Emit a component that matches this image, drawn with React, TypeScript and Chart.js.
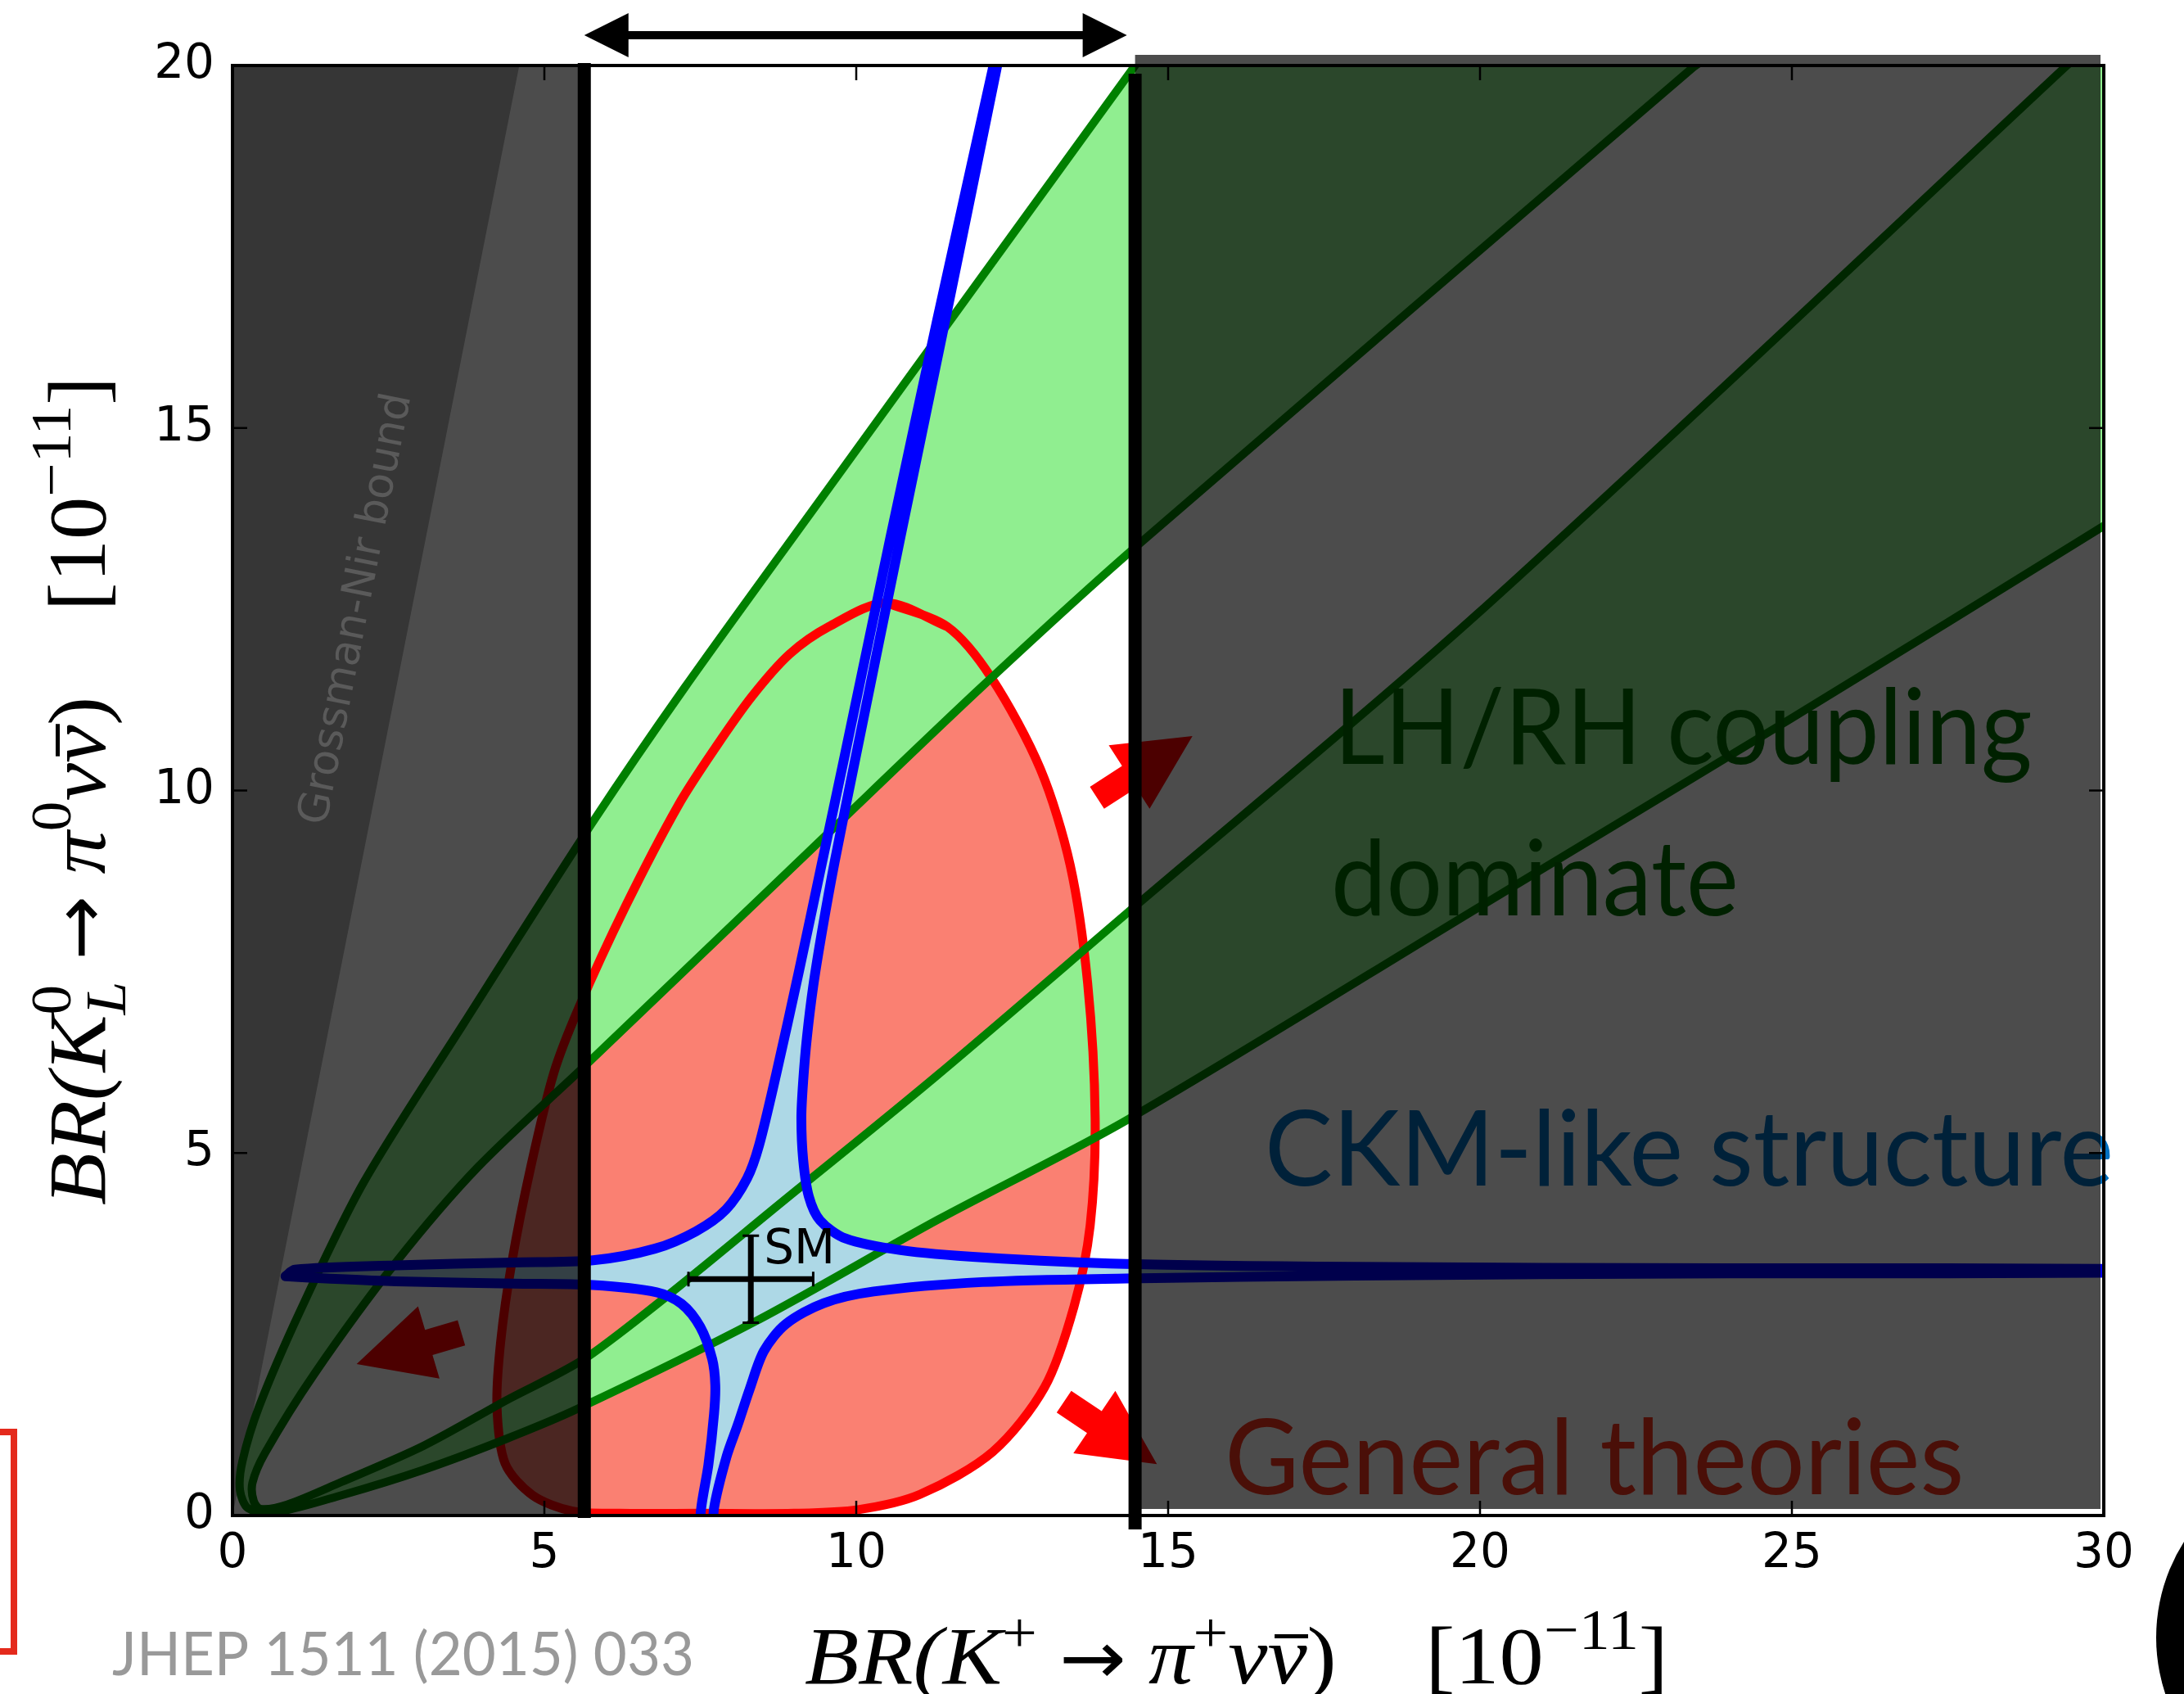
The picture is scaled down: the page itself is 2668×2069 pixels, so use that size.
import React, { useEffect, useRef } from "react";
import { Chart, registerables } from "chart.js";

Chart.register(...registerables);

// ---------- axes ----------
const X_TICKS = [0, 5, 10, 15, 20, 25, 30];
const Y_TICKS = [0, 5, 10, 15, 20];
const X_MAX = 30;
const Y_MAX = 20;

// ---------- experimental window on BR(K+) and Grossman-Nir bound ----------
const K_PLUS_LOW = 5.64;
const K_PLUS_HIGH = 14.47;
const GN_SLOPE = 4.35;

// ---------- Standard Model point ----------
const SM_POINT = [8.31, 3.26];
const SM_ERROR = [1.0, 0.6];

// ---------- LH/RH coupling branches (green) ----------
const OUTER_A = [[14.8, 20.4], [14.47, 20.0], [12.0, 17.07], [9.55, 14.16], [7.25, 11.42], [5.78, 9.57], [3.71, 6.79], [2.1, 4.59], [1.09, 2.83], [0.43, 1.51], [0.16, 0.75], [0.12, 0.35], [0.25, 0.1]];
const OUTER_D = [[0.66, 0.04], [1.75, 0.28], [3.06, 0.63], [4.37, 1.05], [5.53, 1.47], [8.39, 2.68], [11.31, 4.08], [14.33, 5.45], [20, 8.4], [25, 11.0], [30, 13.65], [31, 14.2]];
const INNER_B = [[24.0, 20.4], [23.41, 19.97], [14.4, 13.3], [12.0, 11.42], [9.56, 9.42], [5.65, 6.2], [3.94, 4.81], [2.62, 3.49], [1.31, 1.95], [0.52, 0.86], [0.32, 0.45], [0.34, 0.2]];
const INNER_C = [[0.45, 0.09], [0.875, 0.15], [1.74, 0.46], [3.06, 0.96], [4.37, 1.58], [5.78, 2.24], [9.09, 4.52], [11.31, 6.08], [14.33, 8.3], [19.95, 12.43], [29.37, 19.97], [31, 21.3]];

// ---------- general theories contour (red) ----------
const GENERAL_CONTOUR = [[10.48, 12.59], [11.46, 12.26], [12.17, 11.55], [12.95, 10.3], [13.43, 8.97], [13.71, 7.34], [13.83, 5.48], [13.75, 4.0], [13.49, 2.88], [13.02, 1.77], [12.19, 0.88], [11.02, 0.29], [10.03, 0.08], [9.0, 0.03], [7.5, 0.03], [6.2, 0.03], [5.45, 0.06], [4.81, 0.28], [4.37, 0.72], [4.24, 1.51], [4.3, 2.4], [4.48, 3.5], [4.78, 4.8], [5.15, 6.1], [5.55, 7.0], [6.3, 8.4], [7.15, 9.8], [7.75, 10.6], [8.33, 11.3], [8.93, 11.88], [9.56, 12.26], [10.48, 12.59], [11.46, 12.26]];

// ---------- CKM-like structure (blue), four branches ----------
const CKM_UL = [[0.85, 3.3], [1.0, 3.39], [2.62, 3.45], [4.5, 3.49], [5.78, 3.52], [6.77, 3.68], [7.43, 3.92], [7.91, 4.22], [8.25, 4.65], [8.44, 5.1], [8.72, 6.1], [9.08, 7.5], [9.45, 9.0], [9.82, 10.5], [10.55, 13.5], [11.3, 16.5], [12.2, 20.0], [12.35, 20.6]];
const CKM_UR = [[12.4, 20.6], [12.26, 20.0], [11.43, 16.5], [10.71, 13.5], [10.0, 10.5], [9.65, 9.0], [9.46, 8.1], [9.31, 7.3], [9.21, 6.6], [9.15, 6.0], [9.12, 5.48], [9.15, 4.9], [9.24, 4.4], [9.42, 4.07], [9.83, 3.82], [10.71, 3.66], [12.02, 3.56], [14.33, 3.47], [18, 3.43], [24, 3.41], [31, 3.4]];
const CKM_LR = [[31, 3.35], [24, 3.34], [18, 3.31], [14.33, 3.27], [12.02, 3.22], [10.28, 3.09], [9.48, 2.93], [8.87, 2.64], [8.52, 2.27], [8.29, 1.74], [8.1, 1.25], [7.92, 0.81], [7.72, 0.1], [7.68, -0.5]];
const CKM_LL = [[7.49, -0.5], [7.51, 0.07], [7.63, 0.7], [7.72, 1.4], [7.74, 1.8], [7.69, 2.16], [7.5, 2.6], [7.2, 2.92], [6.8, 3.08], [5.78, 3.18], [4.5, 3.2], [2.62, 3.23], [1.5, 3.27], [0.85, 3.3]];

// ---------- arrows [tail, tip] ----------
const ARROWS = [
  [[3.67, 2.52], [1.99, 2.09]],
  [[13.86, 9.9], [15.39, 10.75]],
  [[13.33, 1.57], [14.82, 0.71]],
];

// ---------- annotation anchors (data coords) ----------
const GN_LABEL = [2.0, 12.5];
const LABEL_LH = [17.66, 10.37];
const LABEL_DOM = [17.61, 8.28];
const LABEL_CKM = [16.55, 4.55];
const LABEL_GEN = [15.91, 0.29];

const F_SANS = '"DejaVu Sans", Verdana, sans-serif';
const F_SERIF = '"Liberation Serif", "DejaVu Serif", serif';
const F_GILL = 'Lato, "Open Sans", sans-serif';

const pts = (arr: number[][]) => arr.map(([x, y]) => ({ x, y }));

const GREEN_SHAPE = [
  ...OUTER_A, ...OUTER_D, [33, 15], [33, 23], [31, 23],
  ...INNER_C.slice().reverse(), ...INNER_B.slice().reverse(), [20, 23], [14.8, 23],
];
const BLUE_SHAPE = [...CKM_UL, ...CKM_UR, ...CKM_LR, ...CKM_LL];

type Run = { t: string; it?: boolean; k?: number; dy?: number; over?: boolean; sans?: boolean; sub?: Run };

const X_TITLE: Run[] = [
  { t: "BR(K", it: true },
  { t: "+", k: 0.7, dy: -0.38 },
  { t: " " },
  { t: "\u2192", sans: true, k: 0.9 },
  { t: " " },
  { t: "\u03C0", it: true },
  { t: "+", k: 0.7, dy: -0.38 },
  { t: "\u03BD", it: true },
  { t: "\u03BD", it: true, over: true },
  { t: ")" },
  { t: "    [10" },
  { t: "\u221211", k: 0.7, dy: -0.42 },
  { t: "]" },
];
const Y_TITLE: Run[] = [
  { t: "BR(K", it: true },
  { t: "0", k: 0.7, dy: -0.42, sub: { t: "L", it: true, k: 0.7, dy: 0.25 } },
  { t: " " },
  { t: "\u2192", sans: true, k: 0.9 },
  { t: " " },
  { t: "\u03C0", it: true },
  { t: "0", k: 0.7, dy: -0.42 },
  { t: "\u03BD", it: true },
  { t: "\u03BD", it: true, over: true },
  { t: ")" },
  { t: "    [10" },
  { t: "\u221211", k: 0.7, dy: -0.42 },
  { t: "]" },
];

function drawRuns(ctx: any, runs: Run[], S: number, x0: number, y0: number, len: number, rot: number) {
  const font = (r: Run) => `${r.it ? "italic " : ""}${(r.k ?? 1) * S}px ${r.sans ? F_SANS : F_SERIF}`;
  const width = (r: Run) => { ctx.font = font(r); return ctx.measureText(r.t).width; };
  const adv = runs.map((r) => Math.max(width(r), r.sub ? width(r.sub) : 0));
  const total = adv.reduce((a, b) => a + b, 0);
  ctx.save();
  ctx.translate(x0, y0);
  ctx.rotate(rot);
  ctx.scale(len / total, 1);
  ctx.fillStyle = "#000";
  ctx.textAlign = "left";
  ctx.textBaseline = "alphabetic";
  let cx = 0;
  runs.forEach((r, i) => {
    ctx.font = font(r);
    ctx.fillText(r.t, cx, (r.dy ?? 0) * S);
    if (r.sub) { ctx.font = font(r.sub); ctx.fillText(r.sub.t, cx, (r.sub.dy ?? 0) * S); }
    if (r.over) { const w = width(r); ctx.fillRect(cx + 0.18 * w, -0.6 * S, w * 0.85, 0.05 * S); }
    cx += adv[i];
  });
  ctx.restore();
}

function fitText(ctx: any, text: string, x: number, y: number, w: number, font: string, color: string) {
  ctx.save();
  ctx.font = font;
  const nat = ctx.measureText(text).width;
  ctx.translate(x, y);
  ctx.scale(w / nat, 1);
  ctx.fillStyle = color;
  ctx.textAlign = "left";
  ctx.textBaseline = "alphabetic";
  ctx.fillText(text, 0, 0);
  ctx.restore();
}

function fatArrow(ctx: any, x0: number, y0: number, x1: number, y1: number, sw: number, hw: number, hl: number) {
  const dx = x1 - x0, dy = y1 - y0, L = Math.hypot(dx, dy);
  const ux = dx / L, uy = dy / L, nx = -uy, ny = ux;
  const bx = x1 - ux * hl, by = y1 - uy * hl;
  ctx.beginPath();
  ctx.moveTo(x0 + nx * sw / 2, y0 + ny * sw / 2);
  ctx.lineTo(bx + nx * sw / 2, by + ny * sw / 2);
  ctx.lineTo(bx + nx * hw / 2, by + ny * hw / 2);
  ctx.lineTo(x1, y1);
  ctx.lineTo(bx - nx * hw / 2, by - ny * hw / 2);
  ctx.lineTo(bx - nx * sw / 2, by - ny * sw / 2);
  ctx.lineTo(x0 - nx * sw / 2, y0 - ny * sw / 2);
  ctx.closePath();
  ctx.fill();
}

const decorPlugin = {
  id: "decor",
  beforeDraw(chart: any) {
    const { ctx, chartArea: a } = chart;
    const X = (v: number) => chart.scales.x.getPixelForValue(v);
    const Y = (v: number) => chart.scales.y.getPixelForValue(v);
    ctx.save();
    ctx.fillStyle = "#ffffff";
    ctx.fillRect(0, 0, chart.width, chart.height);
    ctx.beginPath();
    ctx.rect(a.left, a.top, a.right - a.left, a.bottom - a.top);
    ctx.clip();
    ctx.fillStyle = "#b4b4b4";
    ctx.beginPath();
    ctx.moveTo(X(0), Y(0));
    ctx.lineTo(X(0), Y(Y_MAX));
    ctx.lineTo(X(Y_MAX / GN_SLOPE), Y(Y_MAX));
    ctx.closePath();
    ctx.fill();
    ctx.restore();
  },
  afterDraw(chart: any) {
    const { ctx, chartArea: a } = chart;
    const X = (v: number) => chart.scales.x.getPixelForValue(v);
    const Y = (v: number) => chart.scales.y.getPixelForValue(v);
    ctx.save();

    // region labels (under the tint)
    fitText(ctx, "LH/RH coupling", X(LABEL_LH[0]), Y(LABEL_LH[1]), 853, `128px ${F_GILL}`, "#007000");
    fitText(ctx, "dominate", X(LABEL_DOM[0]), Y(LABEL_DOM[1]), 498, `128px ${F_GILL}`, "#007000");
    fitText(ctx, "CKM-like structure", X(LABEL_CKM[0]), Y(LABEL_CKM[1]), 1037, `128px ${F_GILL}`, "#0070c0");
    fitText(ctx, "General theories", X(LABEL_GEN[0]), Y(LABEL_GEN[1]), 903, `128px ${F_GILL}`, "#f7321b");

    // arrows
    ctx.fillStyle = "#ff0000";
    ARROWS.forEach(([t, h]) => fatArrow(ctx, X(t[0]), Y(t[1]), X(h[0]), Y(h[1]), 32, 92, 92));

    // excluded-region tint
    ctx.fillStyle = "rgba(0,0,0,0.7)";
    ctx.fillRect(X(0), Y(Y_MAX), X(K_PLUS_LOW) - X(0), Y(0) - Y(Y_MAX));
    ctx.fillRect(X(K_PLUS_HIGH), Y(Y_MAX) - 13, X(X_MAX) - 4 - X(K_PLUS_HIGH), Y(0) - 8 - (Y(Y_MAX) - 13));

    // Grossman-Nir label
    ctx.save();
    const ang = Math.atan2(Y(GN_SLOPE) - Y(0), X(1) - X(0));
    ctx.translate(X(GN_LABEL[0]), Y(GN_LABEL[1]));
    ctx.rotate(ang);
    ctx.font = `52px ${F_SANS}`;
    ctx.fillStyle = "#5a5a5a";
    ctx.textAlign = "center";
    ctx.textBaseline = "middle";
    ctx.fillText("Grossman-Nir bound", 0, 0);
    ctx.restore();

    // frame and inward ticks
    ctx.strokeStyle = "#000";
    ctx.lineWidth = 4;
    ctx.strokeRect(a.left, a.top, a.right - a.left, a.bottom - a.top);
    ctx.lineWidth = 2.5;
    ctx.beginPath();
    X_TICKS.forEach((v) => {
      ctx.moveTo(X(v), a.bottom); ctx.lineTo(X(v), a.bottom - 18);
      ctx.moveTo(X(v), a.top); ctx.lineTo(X(v), a.top + 18);
    });
    Y_TICKS.forEach((v) => {
      ctx.moveTo(a.left, Y(v)); ctx.lineTo(a.left + 18, Y(v));
      ctx.moveTo(a.right, Y(v)); ctx.lineTo(a.right - 18, Y(v));
    });
    ctx.stroke();

    // window lines
    ctx.lineWidth = 16;
    ctx.lineCap = "butt";
    ctx.beginPath();
    ctx.moveTo(X(K_PLUS_LOW), Y(Y_MAX) - 3); ctx.lineTo(X(K_PLUS_LOW), Y(0) + 3);
    ctx.moveTo(X(K_PLUS_HIGH), Y(Y_MAX) + 10); ctx.lineTo(X(K_PLUS_HIGH), Y(0) + 17);
    ctx.stroke();

    // double arrow
    const ay = a.top - 37, xl = X(K_PLUS_LOW), xr = X(K_PLUS_HIGH) - 10;
    ctx.lineWidth = 10;
    ctx.beginPath(); ctx.moveTo(xl + 40, ay); ctx.lineTo(xr - 40, ay); ctx.stroke();
    ctx.fillStyle = "#000";
    ctx.beginPath(); ctx.moveTo(xl, ay); ctx.lineTo(xl + 54, ay - 27); ctx.lineTo(xl + 54, ay + 27); ctx.closePath(); ctx.fill();
    ctx.beginPath(); ctx.moveTo(xr, ay); ctx.lineTo(xr - 54, ay - 27); ctx.lineTo(xr - 54, ay + 27); ctx.closePath(); ctx.fill();

    // SM point with error bars
    const sx = X(SM_POINT[0]), sy = Y(SM_POINT[1]);
    const xl2 = X(SM_POINT[0] - SM_ERROR[0]), xr2 = X(SM_POINT[0] + SM_ERROR[0]);
    const yt = Y(SM_POINT[1] + SM_ERROR[1]), yb = Y(SM_POINT[1] - SM_ERROR[1]);
    ctx.lineWidth = 7;
    ctx.beginPath();
    ctx.moveTo(xl2, sy); ctx.lineTo(xr2, sy);
    ctx.moveTo(sx, yt); ctx.lineTo(sx, yb);
    ctx.stroke();
    ctx.lineWidth = 3;
    ctx.beginPath();
    ctx.moveTo(xl2, sy - 9); ctx.lineTo(xl2, sy + 9);
    ctx.moveTo(xr2, sy - 9); ctx.lineTo(xr2, sy + 9);
    ctx.moveTo(sx - 10, yt); ctx.lineTo(sx + 10, yt);
    ctx.moveTo(sx - 10, yb); ctx.lineTo(sx + 10, yb);
    ctx.stroke();
    ctx.font = `58px ${F_SANS}`;
    ctx.textAlign = "left";
    ctx.textBaseline = "alphabetic";
    ctx.fillText("SM", sx + 16, sy - 19);

    // axis titles
    drawRuns(ctx, X_TITLE, 100, 983, 2056, 1055, 0);
    drawRuns(ctx, Y_TITLE, 100, 128, 1472, 1012, -Math.PI / 2);

    // citation
    fitText(ctx, "JHEP 1511 (2015) 033", 137, 2046, 711, `74px ${F_GILL}`, "#999999");

    // slide decorations
    ctx.strokeStyle = "#e42a1c";
    ctx.lineWidth = 8;
    ctx.beginPath();
    ctx.moveTo(-5, 1749); ctx.lineTo(17, 1749); ctx.lineTo(17, 2017); ctx.lineTo(-5, 2017);
    ctx.stroke();
    ctx.fillStyle = "#000";
    ctx.beginPath(); ctx.arc(2852, 2000, 218, 0, Math.PI * 2); ctx.fill();

    ctx.restore();
  },
};

export default function App() {
  const ref = useRef<HTMLCanvasElement>(null);
  useEffect(() => {
    const canvas = ref.current!;
    const common = { pointRadius: 0, tension: 0.3, capBezierPoints: false, borderJoinStyle: "round", borderCapStyle: "round", fill: "shape" };
    const chart = new Chart(canvas, {
      type: "line",
      data: {
        datasets: [
          { ...common, label: "CKM-like structure", data: pts(BLUE_SHAPE), order: 1, borderColor: "#0000ff", borderWidth: 12, backgroundColor: "#add8e6" },
          { ...common, label: "LH/RH coupling", data: pts(GREEN_SHAPE), order: 2, borderColor: "#008000", borderWidth: 10, backgroundColor: "#90ee90" },
          { ...common, label: "General theories", data: pts(GENERAL_CONTOUR), order: 3, borderColor: "#ff0000", borderWidth: 11, backgroundColor: "#fa8072" },
        ] as any,
      },
      options: {
        animation: false,
        responsive: false,
        devicePixelRatio: 1,
        events: [],
        layout: { padding: { left: 0, right: 98, top: 80, bottom: 0 } },
        plugins: {
          legend: { display: false },
          tooltip: { enabled: false },
          filler: { drawTime: "beforeDatasetsDraw", propagate: false },
        } as any,
        scales: {
          x: {
            type: "linear", min: 0, max: X_MAX,
            afterBuildTicks: (s: any) => { s.ticks = X_TICKS.map((v) => ({ value: v })); },
            afterFit: (s: any) => { s.height = 218; },
            ticks: { color: "#000", font: { family: '"DejaVu Sans"', size: 58 }, padding: 13, maxRotation: 0, autoSkip: false },
            grid: { display: false, drawTicks: false },
            border: { display: false },
          },
          y: {
            type: "linear", min: 0, max: Y_MAX,
            afterBuildTicks: (s: any) => { s.ticks = Y_TICKS.map((v) => ({ value: v })); },
            afterFit: (s: any) => { s.width = 284; },
            ticks: { color: "#000", font: { family: '"DejaVu Sans"', size: 58 }, padding: 22, autoSkip: false },
            grid: { display: false, drawTicks: false },
            border: { display: false },
          },
        } as any,
      },
      plugins: [decorPlugin],
    });
    return () => chart.destroy();
  }, []);
  return (
    <div style={{ position: "absolute", left: 0, top: 0, width: 2668, height: 2069, background: "#fff", overflow: "hidden" }}>
      <canvas ref={ref} width={2668} height={2069} style={{ width: 2668, height: 2069, display: "block" }} />
    </div>
  );
}
